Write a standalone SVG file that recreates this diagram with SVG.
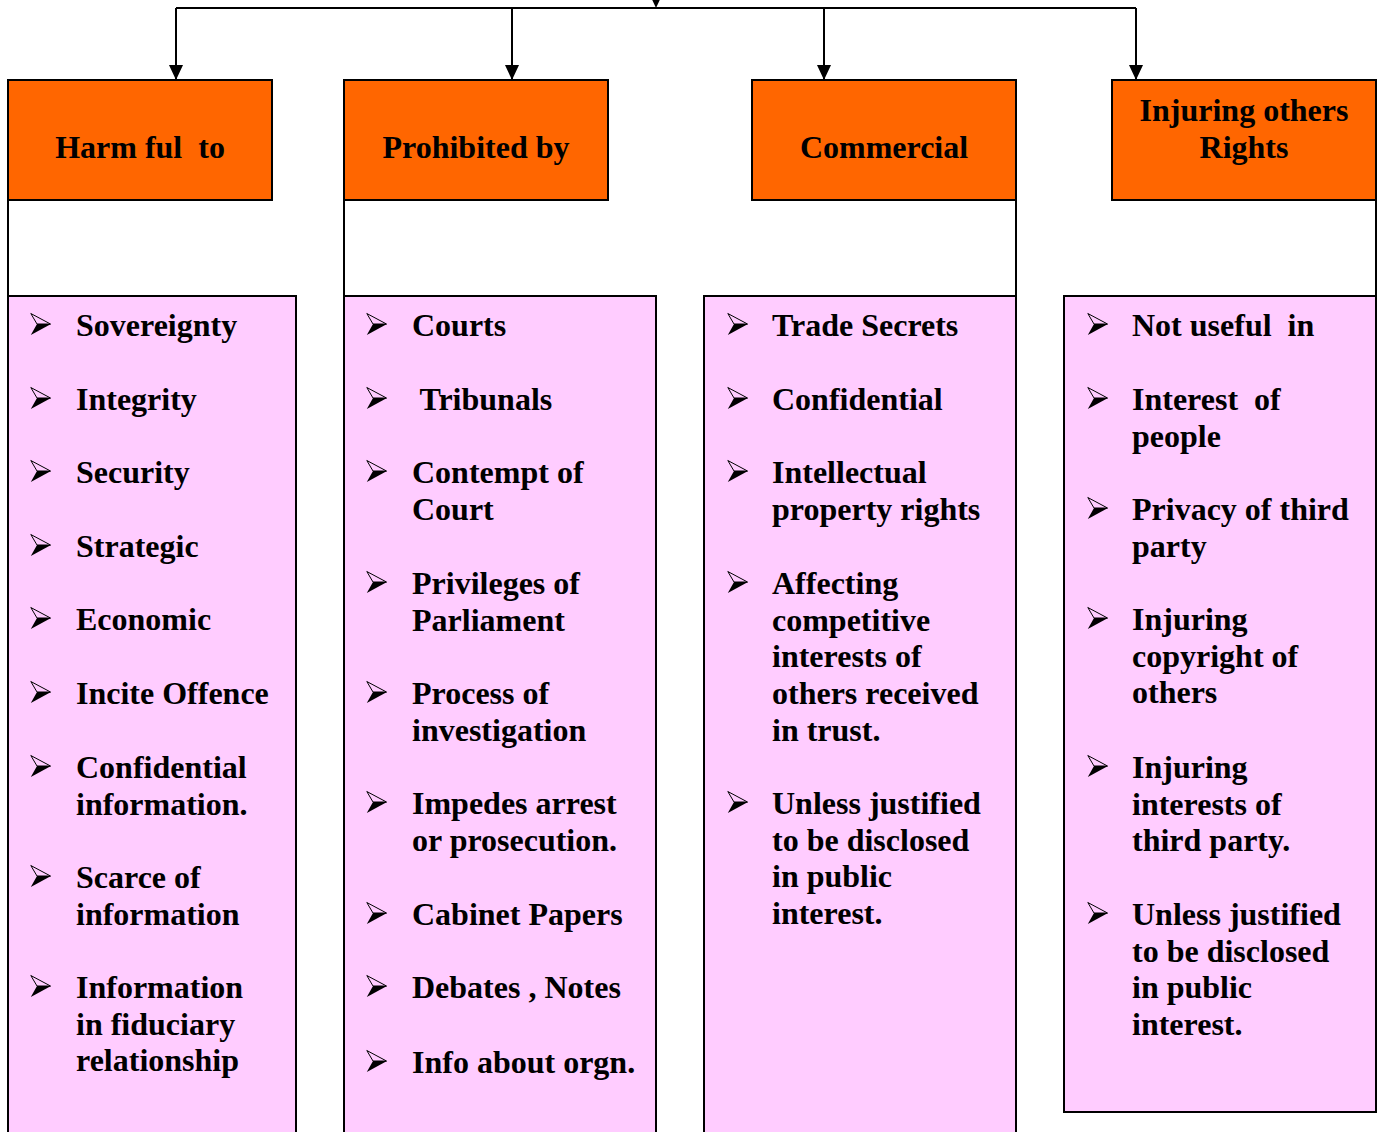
<svg xmlns="http://www.w3.org/2000/svg" xmlns:xlink="http://www.w3.org/1999/xlink" width="1382" height="1132" viewBox="0 0 1382 1132">
<style>
.hdr{fill:#FF6600;stroke:#000;stroke-width:2}
.lst{fill:#FFCCFF;stroke:#000;stroke-width:2}
.edge{stroke:#000;stroke-width:2;fill:none}
.t{font-family:"Liberation Serif","Times New Roman",serif;font-weight:bold;font-size:32px;fill:#000;white-space:pre}
.h{text-anchor:middle}
</style>
<defs>
<marker id="arr" markerUnits="userSpaceOnUse" markerWidth="15" markerHeight="14" refX="15" refY="7" orient="auto">
<path d="M0,0 L15,7 L0,14 z" fill="#000"/>
</marker>
<g id="bul">
<path d="M0.8,0.5 L20.5,11 L7,11 Z" fill="none" stroke="#000" stroke-width="1"/>
<path d="M7,11 L21,11 L0.8,22 Z" fill="#000"/>
</g>
</defs>
<rect width="1382" height="1132" fill="#fff"/>
<g id="connectors">
<polygon points="649,-7 663,-7 656,8" fill="#000"/>
<path class="edge" d="M176,8 H1136"/>
<path class="edge" d="M176,8 V80" marker-end="url(#arr)"/>
<path class="edge" d="M512,8 V80" marker-end="url(#arr)"/>
<path class="edge" d="M824,8 V80" marker-end="url(#arr)"/>
<path class="edge" d="M1136,8 V80" marker-end="url(#arr)"/>
</g>
<g id="node-harmful">
<path class="edge" d="M8,200 V296"/>
<rect class="hdr" x="8" y="80" width="264" height="120"/>
<text class="t h" x="140" y="158">Harm ful  to</text>
</g>
<g id="node-prohibited">
<path class="edge" d="M344,200 V296"/>
<rect class="hdr" x="344" y="80" width="264" height="120"/>
<text class="t h" x="476" y="158">Prohibited by</text>
</g>
<g id="node-commercial">
<path class="edge" d="M1016,200 V296"/>
<rect class="hdr" x="752" y="80" width="264" height="120"/>
<text class="t h" x="884" y="158">Commercial</text>
</g>
<g id="node-injuring">
<path class="edge" d="M1376,200 V296"/>
<rect class="hdr" x="1112" y="80" width="264" height="120"/>
<text class="t h" x="1244" y="121">Injuring others</text>
<text class="t h" x="1244" y="158">Rights</text>
</g>
<g id="list-harmful">
<rect class="lst" x="8" y="296" width="288" height="850"/>
<use xlink:href="#bul" href="#bul" x="30" y="313"/>
<use xlink:href="#bul" href="#bul" x="30" y="387"/>
<use xlink:href="#bul" href="#bul" x="30" y="460"/>
<use xlink:href="#bul" href="#bul" x="30" y="534"/>
<use xlink:href="#bul" href="#bul" x="30" y="607"/>
<use xlink:href="#bul" href="#bul" x="30" y="681"/>
<use xlink:href="#bul" href="#bul" x="30" y="755"/>
<use xlink:href="#bul" href="#bul" x="30" y="865"/>
<use xlink:href="#bul" href="#bul" x="30" y="975"/>
<text class="t" x="76" y="336">Sovereignty</text>
<text class="t" x="76" y="410">Integrity</text>
<text class="t" x="76" y="483">Security</text>
<text class="t" x="76" y="557">Strategic</text>
<text class="t" x="76" y="630">Economic</text>
<text class="t" x="76" y="704">Incite Offence</text>
<text class="t" x="76" y="778">Confidential<tspan x="76" dy="36.7">information.</tspan></text>
<text class="t" x="76" y="888">Scarce of<tspan x="76" dy="36.7">information</tspan></text>
<text class="t" x="76" y="998">Information<tspan x="76" dy="36.7">in fiduciary</tspan><tspan x="76" dy="36.7">relationship</tspan></text>
</g>
<g id="list-prohibited">
<rect class="lst" x="344" y="296" width="312" height="850"/>
<use xlink:href="#bul" href="#bul" x="366" y="313"/>
<use xlink:href="#bul" href="#bul" x="366" y="387"/>
<use xlink:href="#bul" href="#bul" x="366" y="460"/>
<use xlink:href="#bul" href="#bul" x="366" y="571"/>
<use xlink:href="#bul" href="#bul" x="366" y="681"/>
<use xlink:href="#bul" href="#bul" x="366" y="791"/>
<use xlink:href="#bul" href="#bul" x="366" y="902"/>
<use xlink:href="#bul" href="#bul" x="366" y="975"/>
<use xlink:href="#bul" href="#bul" x="366" y="1050"/>
<text class="t" x="412" y="336">Courts</text>
<text class="t" x="412" y="410"> Tribunals</text>
<text class="t" x="412" y="483">Contempt of<tspan x="412" dy="36.7">Court</tspan></text>
<text class="t" x="412" y="594">Privileges of<tspan x="412" dy="36.7">Parliament</tspan></text>
<text class="t" x="412" y="704">Process of<tspan x="412" dy="36.7">investigation</tspan></text>
<text class="t" x="412" y="814">Impedes arrest<tspan x="412" dy="36.7">or prosecution.</tspan></text>
<text class="t" x="412" y="925">Cabinet Papers</text>
<text class="t" x="412" y="998">Debates , Notes</text>
<text class="t" x="412" y="1073">Info about orgn.</text>
</g>
<g id="list-commercial">
<rect class="lst" x="704" y="296" width="312" height="850"/>
<use xlink:href="#bul" href="#bul" x="727" y="313"/>
<use xlink:href="#bul" href="#bul" x="727" y="387"/>
<use xlink:href="#bul" href="#bul" x="727" y="460"/>
<use xlink:href="#bul" href="#bul" x="727" y="571"/>
<use xlink:href="#bul" href="#bul" x="727" y="791"/>
<text class="t" x="772" y="336">Trade Secrets</text>
<text class="t" x="772" y="410">Confidential</text>
<text class="t" x="772" y="483">Intellectual<tspan x="772" dy="36.7">property rights</tspan></text>
<text class="t" x="772" y="594">Affecting<tspan x="772" dy="36.7">competitive</tspan><tspan x="772" dy="36.7">interests of</tspan><tspan x="772" dy="36.7">others received</tspan><tspan x="772" dy="36.7">in trust.</tspan></text>
<text class="t" x="772" y="814">Unless justified<tspan x="772" dy="36.7">to be disclosed</tspan><tspan x="772" dy="36.7">in public</tspan><tspan x="772" dy="36.7">interest.</tspan></text>
</g>
<g id="list-injuring">
<rect class="lst" x="1064" y="296" width="312" height="816"/>
<use xlink:href="#bul" href="#bul" x="1087" y="313"/>
<use xlink:href="#bul" href="#bul" x="1087" y="387"/>
<use xlink:href="#bul" href="#bul" x="1087" y="497"/>
<use xlink:href="#bul" href="#bul" x="1087" y="607"/>
<use xlink:href="#bul" href="#bul" x="1087" y="755"/>
<use xlink:href="#bul" href="#bul" x="1087" y="902"/>
<text class="t" x="1132" y="336">Not useful  in</text>
<text class="t" x="1132" y="410">Interest  of<tspan x="1132" dy="36.7">people</tspan></text>
<text class="t" x="1132" y="520">Privacy of third<tspan x="1132" dy="36.7">party</tspan></text>
<text class="t" x="1132" y="630">Injuring<tspan x="1132" dy="36.7">copyright of</tspan><tspan x="1132" dy="36.7">others</tspan></text>
<text class="t" x="1132" y="778">Injuring<tspan x="1132" dy="36.7">interests of</tspan><tspan x="1132" dy="36.7">third party.</tspan></text>
<text class="t" x="1132" y="925">Unless justified<tspan x="1132" dy="36.7">to be disclosed</tspan><tspan x="1132" dy="36.7">in public</tspan><tspan x="1132" dy="36.7">interest.</tspan></text>
</g>
</svg>
